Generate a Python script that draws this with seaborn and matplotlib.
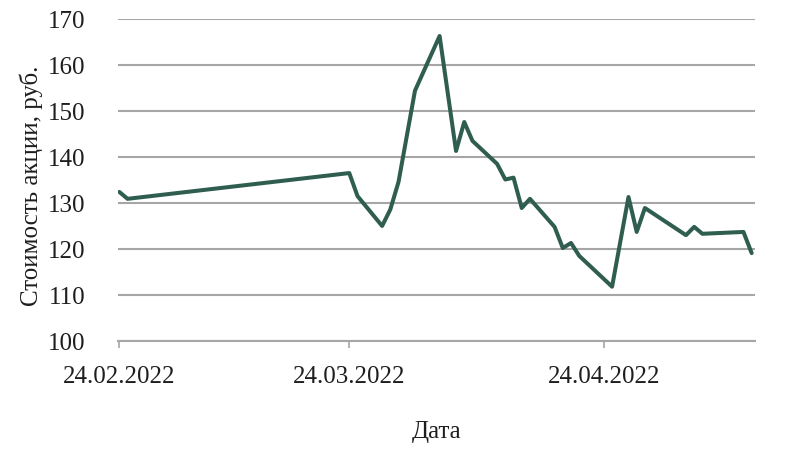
import matplotlib.pyplot as plt
import matplotlib.dates as mdates
import pandas as pd
import seaborn as sns

dates = ['2022-02-24', '2022-02-25', '2022-03-24', '2022-03-25', '2022-03-28',
         '2022-03-29', '2022-03-30', '2022-03-31', '2022-04-01', '2022-04-04',
         '2022-04-06', '2022-04-07', '2022-04-08', '2022-04-11', '2022-04-12',
         '2022-04-13', '2022-04-14', '2022-04-15', '2022-04-18', '2022-04-19',
         '2022-04-20', '2022-04-21', '2022-04-25', '2022-04-27', '2022-04-28',
         '2022-04-29', '2022-05-04', '2022-05-05', '2022-05-06', '2022-05-11',
         '2022-05-12']
prices = [132.4, 130.9, 136.5, 131.5, 125.0,
          128.6, 134.6, 144.5, 154.4, 166.3,
          141.3, 147.6, 143.5, 138.5, 135.1,
          135.5, 128.9, 130.9, 124.8, 120.2,
          121.3, 118.5, 111.8, 131.3, 123.7,
          128.9, 123.0, 124.8, 123.3, 123.7,
          119.1]
x_ticks = ['2022-02-24', '2022-03-24', '2022-04-24']
y_ticks = [100, 110, 120, 130, 140, 150, 160, 170]

df = pd.DataFrame({'Дата': pd.to_datetime(dates), 'Цена': prices})

sns.set_style('white')
plt.rcParams['font.family'] = ['Liberation Serif', 'DejaVu Serif']

fig, ax = plt.subplots(figsize=(7.94, 4.64), dpi=100)
fig.subplots_adjust(left=0.149, right=0.951, top=0.957, bottom=0.263)

sns.lineplot(data=df, x='Дата', y='Цена', ax=ax, color='#2f5e50', linewidth=2.9)

ax.set_ylim(100, 170)
ax.set_yticks(y_ticks)
ax.set_xlim(df['Дата'].min() - pd.Timedelta(hours=3),
            df['Дата'].max() + pd.Timedelta(hours=10))
ax.set_xticks(pd.to_datetime(x_ticks))
ax.xaxis.set_major_formatter(mdates.DateFormatter('%d.%m.%Y'))

ax.yaxis.grid(True, color='#a6a6a6', linewidth=1.5)
ax.set_axisbelow(True)
for s in ['top', 'right', 'left']:
    ax.spines[s].set_visible(False)
ax.spines['bottom'].set_color('#a6a6a6')
ax.spines['bottom'].set_linewidth(1.5)

ax.tick_params(axis='x', bottom=True, length=5, width=1.2, color='#a6a6a6',
               labelsize=18, labelcolor='#1e1e1e', pad=12)
ax.tick_params(axis='y', left=False, labelsize=18, labelcolor='#1e1e1e', pad=20)

ax.set_xlabel('Дата', fontsize=18, color='#1e1e1e', labelpad=24)
ax.set_ylabel('Стоимость акции, руб.', fontsize=18, color='#1e1e1e')
ax.yaxis.set_label_coords(-0.118, 0.485)

fig.savefig('out.png', dpi=100)
